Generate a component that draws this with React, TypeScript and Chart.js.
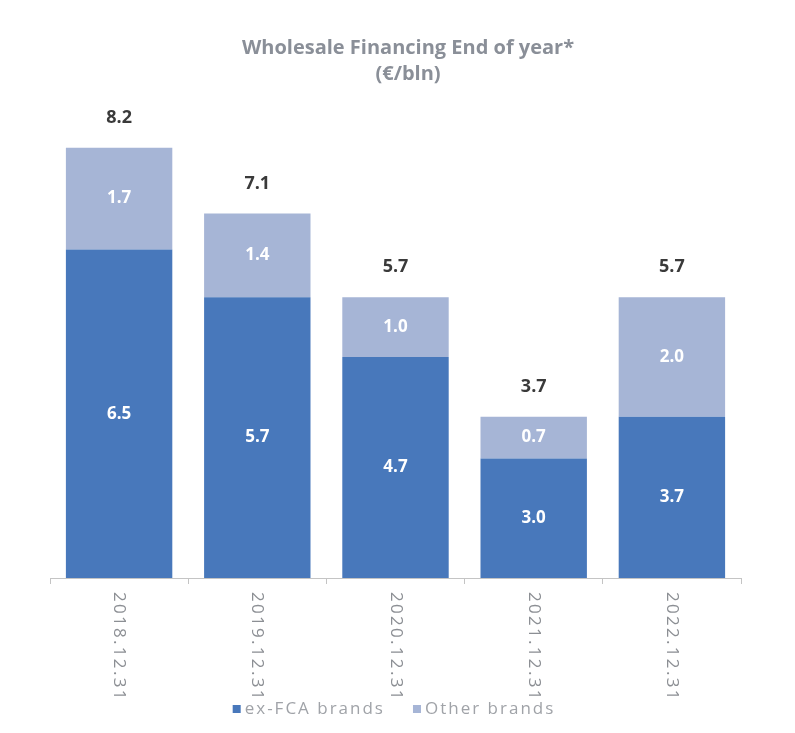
import React, { useEffect, useRef } from "react";
import { Chart, registerables } from "chart.js";

Chart.register(...registerables);

const categories = ["2018.12.31", "2019.12.31", "2020.12.31", "2021.12.31", "2022.12.31"];
const exFcaValues = [6.5, 5.7, 4.7, 3.0, 3.7];
const otherValues = [1.7, 1.4, 1.0, 0.7, 2.0];
const totalValues = [8.2, 7.1, 5.7, 3.7, 5.7];
const seriesNames = ["ex-FCA brands", "Other brands"];
const titleLines = ["Wholesale Financing End of year*", "(€/bln)"];

const DARK = "#4878bb";
const LIGHT = "#a6b5d6";

const labelsPlugin = {
  id: "customLabels",
  afterDatasetsDraw(chart: any) {
    const ctx = chart.ctx;
    const m0 = chart.getDatasetMeta(0);
    const m1 = chart.getDatasetMeta(1);
    const bottom = chart.chartArea.bottom;
    ctx.save();
    // title
    ctx.textAlign = "center";
    ctx.textBaseline = "middle";
    ctx.font = "bold 20px 'Open Sans'";
    ctx.fillStyle = "#8a8f98";
    titleLines.forEach((t, i) => ctx.fillText(t, 408, 48 + i * 26));
    // segment labels
    ctx.font = "bold 17px 'Open Sans'";
    ctx.fillStyle = "#ffffff";
    m0.data.forEach((bar: any, i: number) => {
      ctx.fillText(exFcaValues[i].toFixed(1), bar.x, (bar.y + Math.min(bar.base, bottom)) / 2);
    });
    m1.data.forEach((bar: any, i: number) => {
      ctx.fillText(otherValues[i].toFixed(1), bar.x, (bar.y + Math.min(bar.base, bottom)) / 2);
    });
    ctx.font = "bold 18px 'Open Sans'";
    ctx.fillStyle = "#3a3a3a";
    m1.data.forEach((bar: any, i: number) => {
      ctx.fillText(totalValues[i].toFixed(1), bar.x, bar.y - 30);
    });
    // rotated category labels
    const xs = chart.scales.x;
    ctx.font = "17px 'Open Sans'";
    ctx.fillStyle = "#8c8f94";
    ctx.textAlign = "left";
    ctx.textBaseline = "middle";
    try { (ctx as any).letterSpacing = "2.3px"; } catch (e) {}
    categories.forEach((c, i) => {
      const x = xs.getPixelForValue(i);
      ctx.save();
      ctx.translate(x, xs.top + 14);
      ctx.rotate(Math.PI / 2);
      ctx.fillText(c, 0, 0);
      ctx.restore();
    });
    // legend
    try { (ctx as any).letterSpacing = "2px"; } catch (e) {}
    ctx.font = "17px 'Open Sans'";
    ctx.textAlign = "left";
    const colors = [DARK, LIGHT];
    const box = 8, gapBox = 4, gapItem = 28;
    const widths = seriesNames.map((n) => ctx.measureText(n).width);
    const total = widths.reduce((a, w) => a + box + gapBox + w, 0) + gapItem * (seriesNames.length - 1);
    let x = 394 - total / 2;
    const y = 709;
    seriesNames.forEach((n, i) => {
      ctx.fillStyle = colors[i];
      ctx.fillRect(x, y - box / 2, box, box);
      x += box + gapBox;
      ctx.fillStyle = "#a0a3a8";
      ctx.fillText(n, x, y);
      x += widths[i] + gapItem;
    });
    ctx.restore();
  },
};

export default function App() {
  const ref = useRef<HTMLCanvasElement>(null);
  useEffect(() => {
    document.body.style.margin = "0";
    const chart = new Chart(ref.current!, {
      type: "bar",
      data: {
        labels: categories,
        datasets: [
          { label: seriesNames[0], data: exFcaValues, backgroundColor: DARK, categoryPercentage: 1, barPercentage: 0.77 },
          {
            label: seriesNames[1],
            data: exFcaValues.map((v, i) => [v, v + otherValues[i]]) as any,
            backgroundColor: LIGHT,
            categoryPercentage: 1,
            barPercentage: 0.77,
          },
        ],
      },
      options: {
        animation: false,
        responsive: false,
        layout: { padding: { left: 50, right: 54, top: 100, bottom: 40 } },
        plugins: {
          title: { display: false },
          legend: { display: false },
          tooltip: { enabled: false },
        },
        scales: {
          x: {
            stacked: true,
            ticks: { display: false },
            grid: { display: true, drawOnChartArea: false, drawTicks: true, tickLength: 6, color: "#c4c4c4" },
            border: { display: true, color: "#c4c4c4" },
            afterFit: (s: any) => { s.height = 115; },
          },
          y: {
            display: false,
            min: 1,
            max: 9,
          },
        },
      },
      plugins: [labelsPlugin],
    });
    return () => chart.destroy();
  }, []);
  return <canvas ref={ref} width={795} height={733} style={{ display: "block" }} />;
}
